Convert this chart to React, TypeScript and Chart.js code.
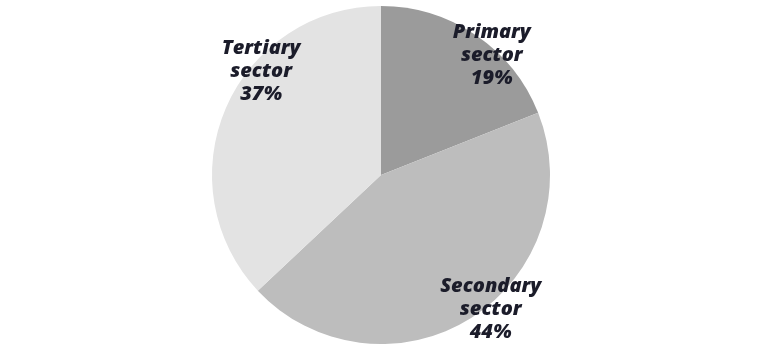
import React, { useEffect, useRef } from "react";
import { Chart, registerables } from "chart.js";

Chart.register(...registerables);

const categories = ["Primary\nsector", "Secondary\nsector", "Tertiary\nsector"];
const shares = [19, 44, 37];
const colors = ["#9b9b9b", "#bdbdbd", "#e3e3e3"];
// label anchor placement: angle (deg, clockwise from top) and radius factor
const labelAngles = [42.5, 140.5, 311];
const labelRadii = [0.97, 1.02, 0.94];

const labelPlugin = {
  id: "sliceLabels",
  afterDatasetsDraw(chart: any) {
    const ctx = chart.ctx;
    const meta = chart.getDatasetMeta(0);
    ctx.save();
    ctx.fillStyle = "#1b1c2a";
    ctx.font = "italic 800 20px 'Open Sans'";
    ctx.textAlign = "center";
    ctx.textBaseline = "middle";
    meta.data.forEach((arc: any, i: number) => {
      const { x, y, outerRadius } = arc.getProps(["x", "y", "outerRadius"], true);
      const a = (labelAngles[i] * Math.PI) / 180;
      const r = outerRadius * labelRadii[i];
      const cx = x + Math.sin(a) * r;
      const cy = y - Math.cos(a) * r + 1;
      const lines = [...categories[i].split("\n"), shares[i] + "%"];
      const lh = 23;
      lines.forEach((line, k) => {
        ctx.fillText(line, cx, cy + (k - (lines.length - 1) / 2) * lh);
      });
    });
    ctx.restore();
  },
};

export default function App() {
  const ref = useRef<HTMLCanvasElement>(null);
  useEffect(() => {
    if (!ref.current) return;
    const chart = new Chart(ref.current, {
      type: "pie",
      data: {
        labels: categories.map((c) => c.replace("\n", " ")),
        datasets: [
          {
            data: shares,
            backgroundColor: colors,
            borderWidth: 0,
          },
        ],
      },
      options: {
        animation: false,
        responsive: true,
        maintainAspectRatio: false,
        layout: { padding: { top: 6, bottom: 6, left: 2 } },
        plugins: {
          legend: { display: false },
          tooltip: { enabled: false },
        },
      },
      plugins: [labelPlugin],
    });
    return () => chart.destroy();
  }, []);
  return (
    <div style={{ position: "absolute", left: 0, top: 0, width: 760, height: 350, background: "#fff" }}>
      <canvas ref={ref} />
    </div>
  );
}
